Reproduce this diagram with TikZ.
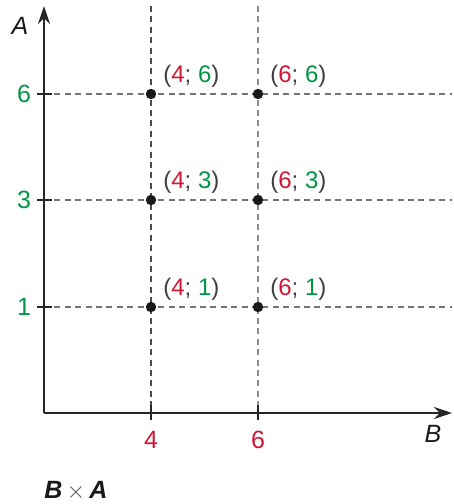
\documentclass[tikz,border=0pt]{standalone}
\usepackage{fontspec}
\setmainfont{Liberation Sans}
\usetikzlibrary{arrows.meta}
\definecolor{valred}{RGB}{208,22,52}
\definecolor{valgreen}{RGB}{0,150,70}
\tikzset{
  axis/.style={line width=1pt, draw=black!85, -{Stealth[length=9pt,width=6pt]}},
  gridline/.style={line width=0.6pt, dash pattern=on 3pt off 2.2pt},
  tick/.style={line width=0.8pt, draw=black!85},
  pairlabel/.style={above right, inner sep=1pt, xshift=5pt, yshift=2pt, font=\fontsize{12}{14}\selectfont, text=black!75},
  val/.style={font=\fontsize{12.5}{14}\selectfont}
}
\newcommand{\pairB}[2]{(\textcolor{valred}{#1}; \textcolor{valgreen}{#2})}
\begin{document}
\begin{tikzpicture}[x=0.5pt, y=-0.5pt]
    \useasboundingbox (0,0) rectangle (454,504);
    % Coordinates
    \coordinate (O) at (44,413);
    \coordinate (Xend) at (452,413);
    \coordinate (Yend) at (44,6);
    \coordinate (P41) at (151,307);
    \coordinate (P43) at (151,200);
    \coordinate (P46) at (151,94);
    \coordinate (P61) at (258,307);
    \coordinate (P63) at (258,200);
    \coordinate (P66) at (258,94);

    % Draw dashed grid
    \draw[gridline, draw=black!70] (151,6) -- (151,413);
    \draw[gridline, draw=black!45] (258,6) -- (258,413);
    \foreach \yy in {94,200,307}
        \draw[gridline, draw=black!55] (44,\yy) -- (452,\yy);

    % Draw axes and ticks
    \draw[axis] (O) -- (Xend);
    \draw[axis] (O) -- (Yend);
    \foreach \yy in {94,200,307}
        \draw[tick] (37,\yy) -- (52,\yy);
    \foreach \xx in {151,258}
        \draw[tick] (\xx,405) -- (\xx,420);

    % Draw points and labels
    \fill[black!90] (P41) circle (2.6pt) node[pairlabel] (L41) {\pairB{4}{1}};
    \fill[black!90] (P43) circle (2.6pt) node[pairlabel] (L43) {\pairB{4}{3}};
    \fill[black!90] (P46) circle (2.6pt) node[pairlabel] (L46) {\pairB{4}{6}};
    \fill[black!90] (P61) circle (2.6pt) node[pairlabel] (L61) {\pairB{6}{1}};
    \fill[black!90] (P63) circle (2.6pt) node[pairlabel] (L63) {\pairB{6}{3}};
    \fill[black!90] (P66) circle (2.6pt) node[pairlabel] (L66) {\pairB{6}{6}};

    % Axis values
    \node[val, text=valgreen] (v6) at (24,94) {6};
    \node[val, text=valgreen] (v3) at (24,200) {3};
    \node[val, text=valgreen] (v1) at (24,307) {1};
    \node[val, text=valred] (h4) at (151,440) {4};
    \node[val, text=valred] (h6) at (258,440) {6};

    % Axis names and caption
    \node[val, text=black!90] (nameA) at (20,26) {\textit{A}};
    \node[val, text=black!90] (nameB) at (433,434) {\textit{B}};
    \node[val, text=black!90, anchor=west, inner sep=0pt] (prod) at (44,491) {\textbf{\textit{B}}\,{\color{black!70}$\times$}\,\textbf{\textit{A}}};
\end{tikzpicture}
\end{document}
